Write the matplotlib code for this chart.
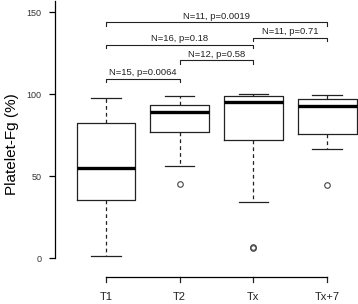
import matplotlib

matplotlib.use("Agg")
import matplotlib.pyplot as plt

plt.rcParams["font.family"] = ["Liberation Sans", "DejaVu Sans"]

# box summary per group
groups = ["T1", "T2", "Tx", "Tx+7"]
q1 = [35.4, 76.6, 72.0, 75.8]
medians = [54.7, 89.0, 95.0, 92.5]
q3 = [82.1, 93.5, 98.8, 97.0]
whisker_lo = [1.2, 56.3, 34.3, 66.5]
whisker_hi = [97.6, 99.0, 100.2, 99.4]
outliers = [[], [45.0], [6.0, 7.0], [44.5]]

# pairwise comparisons: (left group, right group, bracket height, label)
comparisons = [
    (0, 1, 109.3, "N=15, p=0.0064"),
    (1, 2, 120.6, "N=12, p=0.58"),
    (0, 2, 130.0, "N=16, p=0.18"),
    (2, 3, 134.4, "N=11, p=0.71"),
    (0, 3, 143.7, "N=11, p=0.0019"),
]
y_ticks = [0, 50, 100, 150]


def main():
    fig = plt.figure(figsize=(3.58, 3.04), dpi=100)
    ax = fig.add_axes([0.1536, 0.065, 0.8464, 0.933])

    stats = []
    for i, name in enumerate(groups):
        stats.append({
            "label": name,
            "q1": q1[i], "med": medians[i], "q3": q3[i],
            "whislo": whisker_lo[i], "whishi": whisker_hi[i],
            "fliers": outliers[i],
        })
    positions = list(range(1, len(groups) + 1))
    ax.bxp(
        stats, positions=positions, widths=0.8, showfliers=True,
        boxprops=dict(color="#222222", linewidth=0.9),
        medianprops=dict(color="black", linewidth=2.4),
        whiskerprops=dict(color="#222222", linewidth=0.9, linestyle=(0, (3, 2.5))),
        capprops=dict(color="#222222", linewidth=0.9),
        capwidths=0.4,
        flierprops=dict(marker="o", markersize=4, markerfacecolor="none",
                        markeredgecolor="#444444", markeredgewidth=0.8),
    )

    for a, b, level, text in comparisons:
        xa, xb = positions[a], positions[b]
        ax.plot([xa, xa, xb, xb], [level - 2, level, level, level - 2],
                color="#222222", linewidth=0.8, clip_on=False)
        ax.text((xa + xb) / 2, level + 1.0, text, ha="center", va="bottom",
                fontsize=6.8, color="#222222")

    ax.set_xlim(0.3078, 4.42)
    ax.set_ylim(-16, 157)

    ax.spines["top"].set_visible(False)
    ax.spines["right"].set_visible(False)
    ax.spines["left"].set_bounds(0, 157)
    ax.spines["left"].set_linewidth(0.9)
    ax.spines["bottom"].set_position(("data", -11.6))
    ax.spines["bottom"].set_bounds(1, 4)
    ax.spines["bottom"].set_linewidth(0.9)

    ax.set_yticks(y_ticks)
    ax.set_yticklabels([str(v) for v in y_ticks])
    ax.tick_params(axis="y", length=4.5, width=0.9, pad=5, labelsize=6.5, labelcolor="#333333")
    ax.set_xticks(positions)
    ax.set_xticklabels(groups)
    ax.tick_params(axis="x", direction="in", length=0, pad=11, labelsize=8, labelcolor="#222222")
    for x in positions:
        ax.plot([x, x], [-11.6, -14.8], color="#222222", linewidth=0.9, clip_on=False)

    ax.set_ylabel("Platelet-Fg (%)", fontsize=11)
    ax.yaxis.set_label_coords(-0.119, 0.494)

    fig.savefig("out.png", dpi=100)


if __name__ == "__main__":
    main()
